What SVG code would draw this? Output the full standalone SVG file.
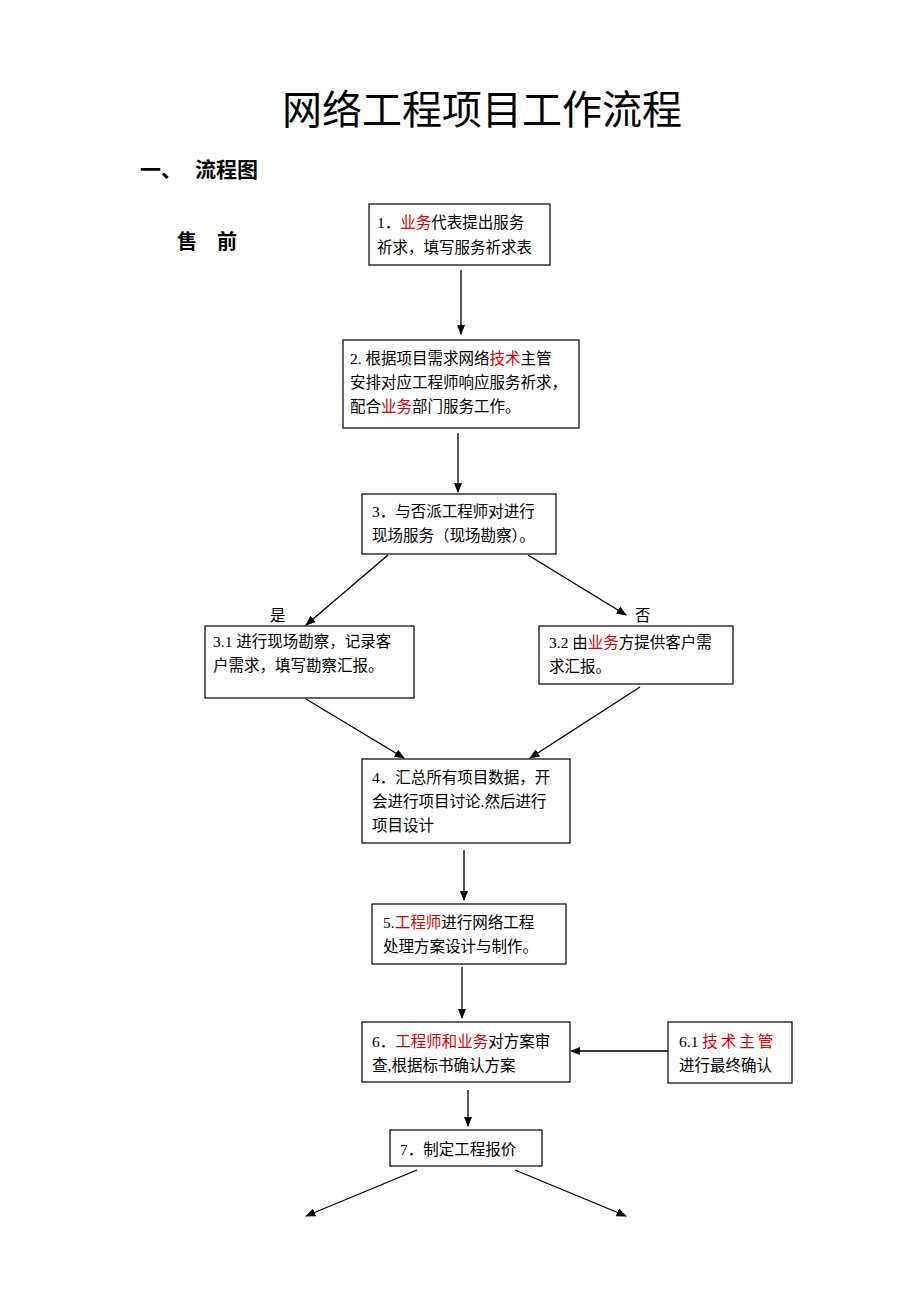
<svg xmlns="http://www.w3.org/2000/svg" width="920" height="1302" viewBox="0 0 920 1302">
<style>
.b{fill:#fff;stroke:#000;stroke-width:1.2}
.t{font-family:"Liberation Serif","Noto Sans CJK SC",serif;font-size:15.5px;fill:#000}
.r{fill:#e00000}
.h{font-family:"Liberation Serif","Noto Sans CJK SC",serif;font-weight:bold;fill:#000}
.c line{stroke:#000;stroke-width:1.3}
</style>
<defs><marker id="a" viewBox="0 0 10 10" refX="9" refY="5" markerWidth="8" markerHeight="8" orient="auto"><path d="M0,1L10,5L0,9z" fill="#000"/></marker></defs>
<rect width="920" height="1302" fill="#fff"/>
<text x="482" y="124" text-anchor="middle" font-size="40" font-family="Liberation Serif,Noto Sans CJK SC,serif">网络工程项目工作流程</text>
<text class="h" x="140" y="177" font-size="21">一、</text>
<text class="h" x="195" y="177" font-size="21">流程图</text>
<text class="h" x="177" y="249" font-size="20">售　前</text>
<g class="c">
<line x1="461" y1="270" x2="461" y2="334" marker-end="url(#a)"/>
<line x1="458" y1="433" x2="458" y2="492" marker-end="url(#a)"/>
<line x1="388" y1="555" x2="306" y2="625" marker-end="url(#a)"/>
<line x1="528" y1="555" x2="626" y2="615" marker-end="url(#a)"/>
<line x1="306" y1="699" x2="404" y2="758" marker-end="url(#a)"/>
<line x1="640" y1="687" x2="530" y2="758" marker-end="url(#a)"/>
<line x1="464" y1="850" x2="464" y2="900" marker-end="url(#a)"/>
<line x1="462" y1="967" x2="462" y2="1018" marker-end="url(#a)"/>
<line x1="668" y1="1051" x2="571" y2="1051" marker-end="url(#a)"/>
<line x1="468" y1="1090" x2="468" y2="1126" marker-end="url(#a)"/>
<line x1="417" y1="1170" x2="306" y2="1216" marker-end="url(#a)"/>
<line x1="515" y1="1170" x2="626" y2="1216" marker-end="url(#a)"/>
</g>
<text class="t" x="270" y="621">是</text>
<text class="t" x="635" y="621">否</text>
<g id="n1"><rect class="b" x="369" y="204" width="181" height="61"/><text class="t" x="377" y="228">1．<tspan class="r">业务</tspan>代表提出服务</text><text class="t" x="377" y="253">祈求，填写服务祈求表</text></g>
<g id="n2"><rect class="b" x="343" y="340" width="236" height="88"/><text class="t" x="350" y="364">2. 根据项目需求网络<tspan class="r">技术</tspan>主管</text><text class="t" x="350" y="388">安排对应工程师响应服务祈求，</text><text class="t" x="350" y="412">配合<tspan class="r">业务</tspan>部门服务工作。</text></g>
<g id="n3"><rect class="b" x="362" y="494" width="194" height="60"/><text class="t" x="372" y="517">3．与否派工程师对进行</text><text class="t" x="372" y="541">现场服务（现场勘察）。</text></g>
<g id="n31"><rect class="b" x="205" y="626" width="209" height="72"/><text class="t" x="213" y="647">3.1 进行现场勘察，记录客</text><text class="t" x="213" y="671">户需求，填写勘察汇报。</text></g>
<g id="n32"><rect class="b" x="539" y="626" width="194" height="58"/><text class="t" x="549" y="648">3.2 由<tspan class="r">业务</tspan>方提供客户需</text><text class="t" x="549" y="672">求汇报。</text></g>
<g id="n4"><rect class="b" x="362" y="759" width="208" height="84"/><text class="t" x="372" y="783">4．汇总所有项目数据，开</text><text class="t" x="372" y="807">会进行项目讨论.然后进行</text><text class="t" x="372" y="831">项目设计</text></g>
<g id="n5"><rect class="b" x="372" y="904" width="194" height="60"/><text class="t" x="383" y="928">5.<tspan class="r">工程师</tspan>进行网络工程</text><text class="t" x="383" y="952">处理方案设计与制作。</text></g>
<g id="n6"><rect class="b" x="362" y="1022" width="208" height="60"/><text class="t" x="372" y="1047">6．<tspan class="r">工程师和业务</tspan>对方案审</text><text class="t" x="372" y="1071">查,根据标书确认方案</text></g>
<g id="n61"><rect class="b" x="668" y="1022" width="124" height="61"/><text class="t" x="679" y="1047">6.1 <tspan class="r" letter-spacing="3">技术主管</tspan></text><text class="t" x="679" y="1071">进行最终确认</text></g>
<g id="n7"><rect class="b" x="390" y="1130" width="152" height="36"/><text class="t" x="400" y="1155">7．制定工程报价</text></g>
</svg>
